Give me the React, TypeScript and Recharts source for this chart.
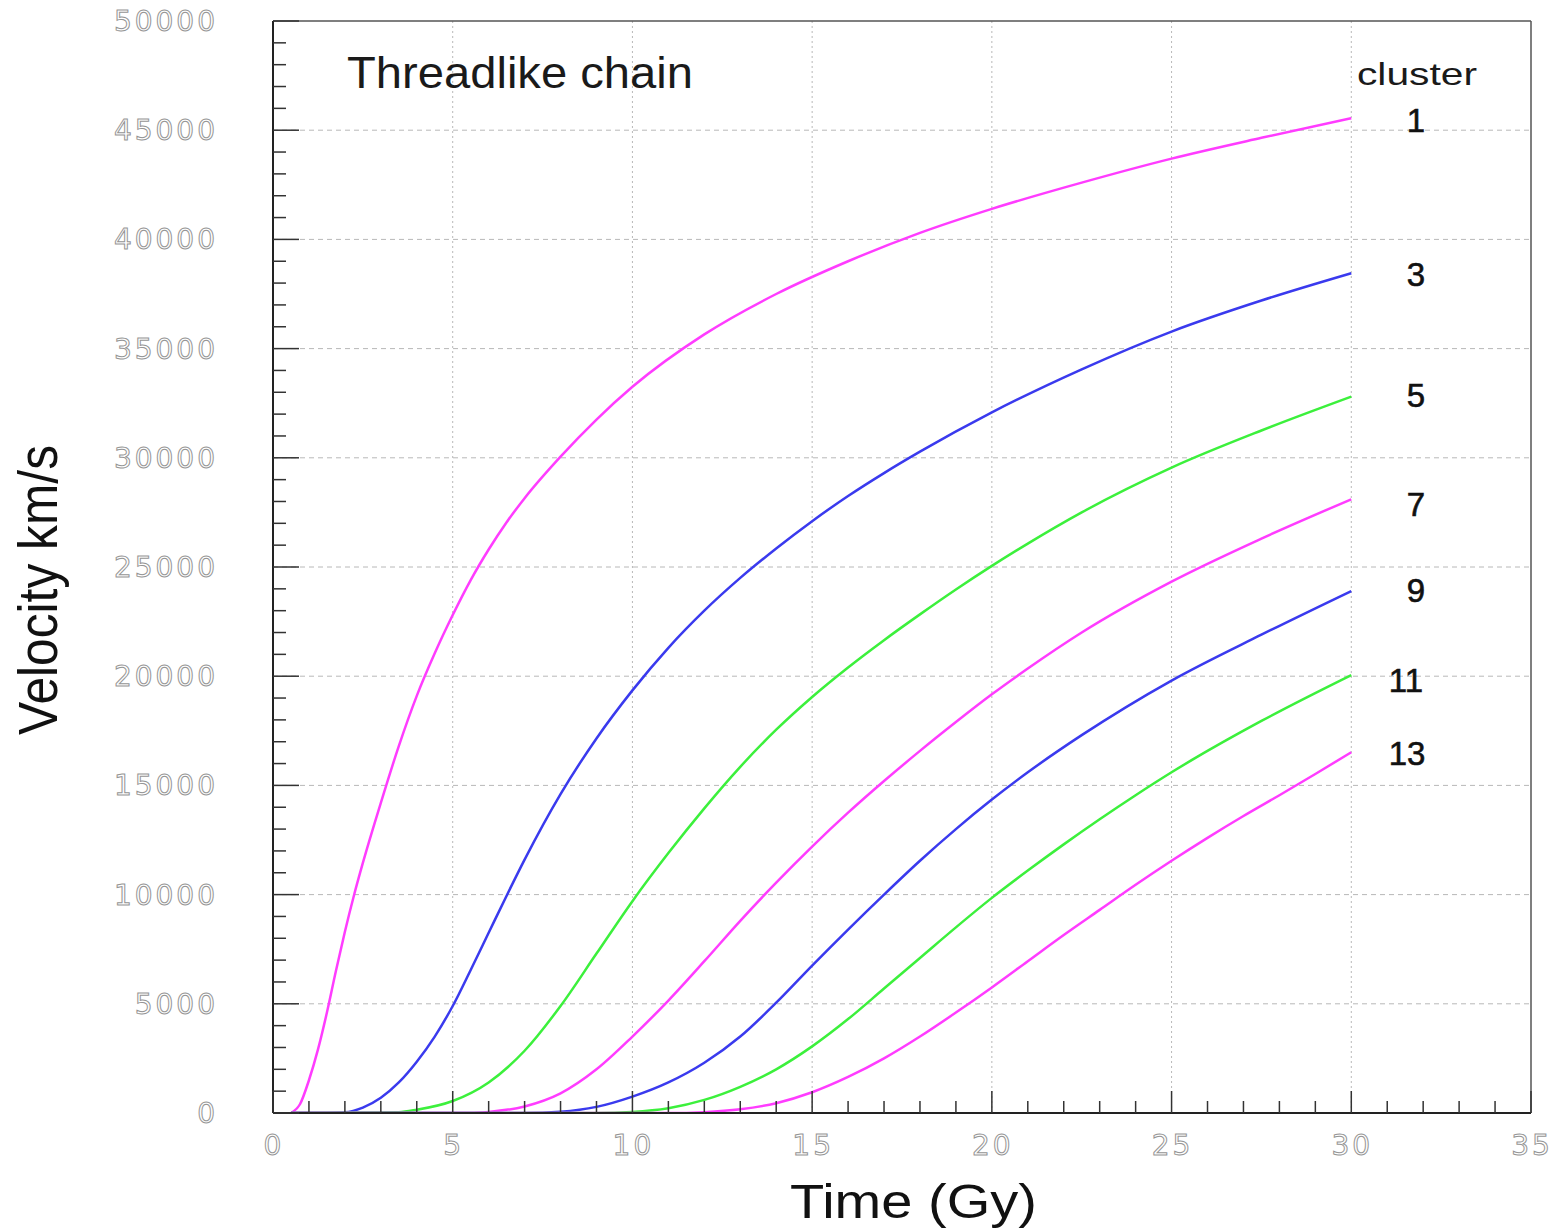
import { LineChart, Line, XAxis, YAxis, CartesianGrid, ReferenceLine } from "recharts";

type Pt = { t: number; v: number };

// velocity (km/s) against time (Gy)
const cluster1: Pt[] = [
  { t: 0.5, v: 0 }, { t: 0.75, v: 400 }, { t: 1, v: 1500 }, { t: 1.25, v: 2900 },
  { t: 1.5, v: 4600 }, { t: 1.75, v: 6500 }, { t: 2, v: 8300 }, { t: 2.25, v: 9950 },
  { t: 2.5, v: 11450 }, { t: 3, v: 14200 }, { t: 3.5, v: 16800 }, { t: 4, v: 19100 },
  { t: 4.5, v: 21050 }, { t: 5, v: 22800 }, { t: 5.5, v: 24400 }, { t: 6, v: 25800 },
  { t: 6.5, v: 27050 }, { t: 7, v: 28150 }, { t: 8, v: 30050 }, { t: 9, v: 31750 },
  { t: 10, v: 33250 }, { t: 12, v: 35650 }, { t: 14, v: 37500 }, { t: 16, v: 39000 },
  { t: 18, v: 40300 }, { t: 20, v: 41400 }, { t: 22.5, v: 42600 }, { t: 25, v: 43700 },
  { t: 27.5, v: 44650 }, { t: 30, v: 45550 },
];

const cluster3: Pt[] = [
  { t: 0.5, v: 0 }, { t: 1.5, v: 0 }, { t: 2, v: 30 }, { t: 2.5, v: 250 },
  { t: 3, v: 700 }, { t: 3.5, v: 1400 }, { t: 4, v: 2350 }, { t: 4.5, v: 3500 },
  { t: 5, v: 4900 }, { t: 5.5, v: 6550 }, { t: 6, v: 8250 }, { t: 6.5, v: 9950 },
  { t: 7, v: 11600 }, { t: 8, v: 14600 }, { t: 9, v: 17150 }, { t: 10, v: 19350 },
  { t: 11, v: 21300 }, { t: 12, v: 23000 }, { t: 13, v: 24500 }, { t: 14, v: 25850 },
  { t: 15, v: 27100 }, { t: 16, v: 28250 }, { t: 17, v: 29300 }, { t: 18, v: 30280 },
  { t: 20, v: 32080 }, { t: 22.5, v: 34050 }, { t: 25, v: 35780 }, { t: 27.5, v: 37200 },
  { t: 30, v: 38450 },
];

const cluster5: Pt[] = [
  { t: 0.5, v: 0 }, { t: 3.5, v: 40 }, { t: 4, v: 150 }, { t: 5, v: 550 },
  { t: 6, v: 1400 }, { t: 7, v: 2850 }, { t: 8, v: 4900 }, { t: 9, v: 7300 },
  { t: 10, v: 9700 }, { t: 11, v: 11900 }, { t: 12, v: 13950 }, { t: 13, v: 15850 },
  { t: 14, v: 17550 }, { t: 15, v: 19050 }, { t: 16, v: 20400 }, { t: 17, v: 21650 },
  { t: 18, v: 22830 }, { t: 19, v: 23970 }, { t: 20, v: 25050 }, { t: 21, v: 26070 },
  { t: 22.5, v: 27500 }, { t: 25, v: 29550 }, { t: 27.5, v: 31250 }, { t: 30, v: 32800 },
];

const cluster7: Pt[] = [
  { t: 0.5, v: 0 }, { t: 5.5, v: 0 }, { t: 6, v: 50 }, { t: 7, v: 300 },
  { t: 8, v: 900 }, { t: 9, v: 2000 }, { t: 10, v: 3500 }, { t: 11, v: 5150 },
  { t: 12, v: 6950 }, { t: 13, v: 8800 }, { t: 14, v: 10550 }, { t: 15, v: 12200 },
  { t: 16, v: 13750 }, { t: 17, v: 15200 }, { t: 18, v: 16580 }, { t: 19, v: 17900 },
  { t: 20, v: 19170 }, { t: 21, v: 20350 }, { t: 22.5, v: 22000 }, { t: 25, v: 24330 },
  { t: 27.5, v: 26300 }, { t: 30, v: 28100 },
];

const cluster9: Pt[] = [
  { t: 0.5, v: 0 }, { t: 7, v: 0 }, { t: 8, v: 60 }, { t: 9, v: 280 },
  { t: 10, v: 750 }, { t: 11, v: 1400 }, { t: 12, v: 2300 }, { t: 13, v: 3500 },
  { t: 14, v: 5050 }, { t: 15, v: 6750 }, { t: 16, v: 8400 }, { t: 17, v: 10000 },
  { t: 18, v: 11550 }, { t: 19, v: 13000 }, { t: 20, v: 14350 }, { t: 21, v: 15600 },
  { t: 22.5, v: 17300 }, { t: 25, v: 19800 }, { t: 27.5, v: 21900 }, { t: 30, v: 23900 },
];

const cluster11: Pt[] = [
  { t: 0.5, v: 0 }, { t: 9, v: 0 }, { t: 10, v: 50 }, { t: 11, v: 220 },
  { t: 12, v: 600 }, { t: 13, v: 1200 }, { t: 14, v: 2000 }, { t: 15, v: 3050 },
  { t: 16, v: 4300 }, { t: 17, v: 5700 }, { t: 18, v: 7100 }, { t: 19, v: 8500 },
  { t: 20, v: 9850 }, { t: 21, v: 11100 }, { t: 22, v: 12300 }, { t: 23, v: 13450 },
  { t: 24, v: 14550 }, { t: 25, v: 15600 }, { t: 27.5, v: 17950 }, { t: 30, v: 20050 },
];

const cluster13: Pt[] = [
  { t: 0.5, v: 0 }, { t: 11, v: 0 }, { t: 12, v: 40 }, { t: 13, v: 170 },
  { t: 14, v: 450 }, { t: 15, v: 950 }, { t: 16, v: 1650 }, { t: 17, v: 2500 },
  { t: 18, v: 3500 }, { t: 19, v: 4600 }, { t: 20, v: 5750 }, { t: 21, v: 6950 },
  { t: 22, v: 8150 }, { t: 23, v: 9300 }, { t: 24, v: 10450 }, { t: 25, v: 11550 },
  { t: 26, v: 12600 }, { t: 27, v: 13600 }, { t: 28, v: 14550 }, { t: 29, v: 15520 },
  { t: 30, v: 16520 },
];

const CLUSTER_NAMES = ["1", "3", "5", "7", "9", "11", "13"];
const TIME_LABELS = [0, 5, 10, 15, 20, 25, 30, 35];
const VELOCITY_LABELS = [0, 5000, 10000, 15000, 20000, 25000, 30000, 35000, 40000, 45000, 50000];

const timeTicks = Array.from({ length: 36 }, (_, i) => i);
const velocityTicks = Array.from({ length: 51 }, (_, i) => i * 1000);

const MAGENTA = "#ff3cff";
const BLUE = "#3a3aee";
const GREEN = "#3cf03c";

const series = [
  { name: CLUSTER_NAMES[0], data: cluster1, color: MAGENTA },
  { name: CLUSTER_NAMES[1], data: cluster3, color: BLUE },
  { name: CLUSTER_NAMES[2], data: cluster5, color: GREEN },
  { name: CLUSTER_NAMES[3], data: cluster7, color: MAGENTA },
  { name: CLUSTER_NAMES[4], data: cluster9, color: BLUE },
  { name: CLUSTER_NAMES[5], data: cluster11, color: GREEN },
  { name: CLUSTER_NAMES[6], data: cluster13, color: MAGENTA },
];

// label placement at the right of the curves
const labelPos = [
  { x: 1416, y: 132 },
  { x: 1416, y: 286 },
  { x: 1416, y: 407 },
  { x: 1416, y: 516 },
  { x: 1416, y: 602 },
  { x: 1406, y: 692 },
  { x: 1407, y: 765 },
];

const tickText = {
  fontFamily: "DejaVu Sans",
  fontSize: 28,
  letterSpacing: 3,
  fill: "#fff",
  stroke: "#959595",
  strokeWidth: 1,
};

const labelFont = "Liberation Sans, Arial, sans-serif";

function TimeTick(props: any) {
  const { x, y, payload } = props;
  const major = payload.value % 5 === 0;
  return (
    <g>
      <line x1={x} y1={y} x2={x} y2={y - (major ? 22 : 12)} stroke="#333" strokeWidth={1.5} />
      {major && TIME_LABELS.includes(payload.value) && (
        <text x={x + 1} y={y + 42} textAnchor="middle" {...tickText}>
          {payload.value}
        </text>
      )}
    </g>
  );
}

function VelocityTick(props: any) {
  const { x, y, payload } = props;
  const major = payload.value % 5000 === 0;
  return (
    <g>
      <line x1={x} y1={y} x2={x + (major ? 26 : 13)} y2={y} stroke="#333" strokeWidth={1.5} />
      {major && VELOCITY_LABELS.includes(payload.value) && (
        <text x={x - 55} y={y + 10} textAnchor="end" {...tickText}>
          {payload.value}
        </text>
      )}
    </g>
  );
}

export default function App() {
  return (
    <div style={{ position: "absolute", left: 0, top: 0, width: 1557, height: 1231, background: "#fff" }}>
      <LineChart
        width={1557}
        height={1231}
        margin={{ top: 21, right: 26, left: 0, bottom: 0 }}
      >
        <CartesianGrid
          vertical={false}
          horizontalValues={VELOCITY_LABELS.slice(1, -1)}
          stroke="#b8b8b8"
          strokeDasharray="5 4"
        />
        <CartesianGrid
          horizontal={false}
          verticalValues={TIME_LABELS.slice(1, -1)}
          stroke="#b8b8b8"
          strokeDasharray="2 3"
        />
        <XAxis
          dataKey="t"
          type="number"
          domain={[0, 35]}
          ticks={timeTicks}
          interval={0}
          height={118}
          tickSize={0}
          tickMargin={0}
          tickLine={false}
          axisLine={{ stroke: "#222", strokeWidth: 2 }}
          tick={<TimeTick />}
          allowDataOverflow
        />
        <YAxis
          type="number"
          domain={[0, 50000]}
          ticks={velocityTicks}
          interval={0}
          width={273}
          tickSize={0}
          tickMargin={0}
          tickLine={false}
          axisLine={{ stroke: "#222", strokeWidth: 2 }}
          tick={<VelocityTick />}
          allowDataOverflow
        />
        <ReferenceLine y={50000} stroke="#555" strokeWidth={1.5} />
        <ReferenceLine x={35} stroke="#555" strokeWidth={1.5} />
        {series.map((s) => (
          <Line
            key={s.name}
            data={s.data}
            dataKey="v"
            name={s.name}
            type="monotone"
            stroke={s.color}
            strokeWidth={2.5}
            dot={false}
            activeDot={false}
            isAnimationActive={false}
          />
        ))}
      </LineChart>
      <svg
        width={1557}
        height={1231}
        style={{ position: "absolute", left: 0, top: 0, pointerEvents: "none" }}
      >
        <text x={347} y={88} fontFamily={labelFont} fontSize={44} fill="#1a1a1a" textLength={346} lengthAdjust="spacingAndGlyphs">
          Threadlike chain
        </text>
        <text x={1357} y={85} fontFamily={labelFont} fontSize={32} fill="#1a1a1a" textLength={120} lengthAdjust="spacingAndGlyphs">
          cluster
        </text>
        {CLUSTER_NAMES.map((n, i) => (
          <text
            key={n}
            x={labelPos[i].x}
            y={labelPos[i].y}
            textAnchor="middle"
            fontFamily={labelFont}
            fontSize={33}
            fill="#111"
            stroke="#111"
            strokeWidth={0.6}
          >
            {n}
          </text>
        ))}
        <text x={790} y={1218} fontFamily={labelFont} fontSize={49} fill="#111" textLength={247} lengthAdjust="spacingAndGlyphs">
          Time (Gy)
        </text>
        <text
          transform="translate(57,590) rotate(-90)"
          textAnchor="middle"
          fontFamily={labelFont}
          fontSize={55}
          fill="#111"
          textLength={290}
          lengthAdjust="spacingAndGlyphs"
        >
          Velocity  km/s
        </text>
      </svg>
    </div>
  );
}
